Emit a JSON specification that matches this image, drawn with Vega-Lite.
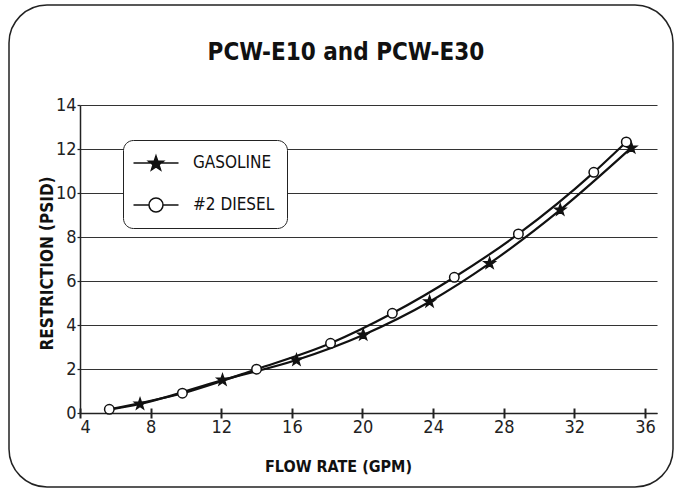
{
  "$schema": "https://vega.github.io/schema/vega-lite/v6.json",
  "width": 664,
  "height": 482,
  "autosize": "none",
  "padding": {"left": 9, "top": 5, "right": 9, "bottom": 6},
  "background": "white",
  "title": {
    "text": "PCW-E10 and PCW-E30",
    "font": "DejaVu Sans Condensed, Roboto Condensed, Liberation Sans, sans-serif",
    "fontSize": 24,
    "fontWeight": "bold",
    "color": "#111",
    "anchor": "middle",
    "frame": "group",
    "baseline": "alphabetic",
    "offset": -56,
    "dy": 23,
    "dx": 5
  },
  "config": {
    "view": {"stroke": "#222", "strokeWidth": 1.5, "cornerRadius": 38, "fill": "white"},
    "font": "DejaVu Sans Condensed, Roboto Condensed, Liberation Sans, sans-serif",
    "legend": {
      "title": null,
      "orient": "none",
      "legendX": 114,
      "legendY": 135,
      "padding": 12,
      "fillColor": "white",
      "strokeColor": "#222",
      "cornerRadius": 10,
      "symbolSize": 400,
      "symbolOpacity": 1,
      "symbolStrokeWidth": 1.5,
      "labelOffset": 36,
      "rowPadding": 20,
      "labelFontSize": 17,
      "labelColor": "#111",
      "labelExpr": "datum.label + '\u00a0\u00a0\u00a0\u00a0\u00a0\u00a0\u00a0'"
    }
  },
  "data": {
    "values": [
      {"series": "GASOLINE", "flow": 5.66, "psid": 0.15},
      {"series": "GASOLINE", "flow": 7.4, "psid": 0.41},
      {"series": "GASOLINE", "flow": 12.07, "psid": 1.5},
      {"series": "GASOLINE", "flow": 16.26, "psid": 2.41},
      {"series": "GASOLINE", "flow": 20.04, "psid": 3.55},
      {"series": "GASOLINE", "flow": 23.8, "psid": 5.06},
      {"series": "GASOLINE", "flow": 27.2, "psid": 6.8},
      {"series": "GASOLINE", "flow": 31.2, "psid": 9.23},
      {"series": "GASOLINE", "flow": 35.22, "psid": 12.05},
      {"series": "#2 DIESEL", "flow": 5.66, "psid": 0.17},
      {"series": "#2 DIESEL", "flow": 9.8, "psid": 0.9},
      {"series": "#2 DIESEL", "flow": 14.0, "psid": 1.99},
      {"series": "#2 DIESEL", "flow": 18.19, "psid": 3.17},
      {"series": "#2 DIESEL", "flow": 21.69, "psid": 4.53},
      {"series": "#2 DIESEL", "flow": 25.2, "psid": 6.17},
      {"series": "#2 DIESEL", "flow": 28.83, "psid": 8.14},
      {"series": "#2 DIESEL", "flow": 33.1, "psid": 10.94},
      {"series": "#2 DIESEL", "flow": 34.94, "psid": 12.32}
    ]
  },
  "encoding": {
    "y": {
      "field": "psid",
      "type": "quantitative",
      "scale": {"domain": [0, 14], "range": [408, 100], "nice": false, "zero": true},
      "axis": {
        "title": "RESTRICTION (PSID)",
        "values": [0, 2, 4, 6, 8, 10, 12, 14],
        "offset": -71,
        "grid": true,
        "gridColor": "#333",
        "gridWidth": 1.2,
        "domainColor": "#222",
        "domainWidth": 1.5,
        "tickColor": "#222",
        "tickWidth": 1.2,
        "tickSize": 3,
        "labelFontSize": 18,
        "labelColor": "#222",
        "labelPadding": 1,
        "titleFontSize": 17,
        "titleFontWeight": "bold",
        "titleColor": "#111",
        "titleX": -28,
        "titleY": 258,
        "titleAlign": "center",
        "titleAngle": -90,
        "titleBaseline": "alphabetic"
      }
    }
  },
  "layer": [
    {
      "mark": {"type": "line", "interpolate": "monotone", "color": "#111", "strokeWidth": 2.2},
      "encoding": {
        "x": {
          "field": "flow",
          "type": "quantitative",
          "scale": {"domain": [4, 36.68], "range": [71, 648], "nice": false, "zero": false},
          "axis": {
            "title": "FLOW RATE (GPM)",
            "values": [4, 8, 12, 16, 20, 24, 28, 32, 36],
            "offset": -74,
            "grid": false,
            "domainColor": "#222",
            "domainWidth": 1.5,
            "tickColor": "#222",
            "tickWidth": 2,
            "tickSize": 5,
            "labelFontSize": 18,
            "labelColor": "#222",
            "labelPadding": 0,
            "titleFontSize": 16,
            "titleFontWeight": "bold",
            "titleColor": "#111",
            "titleX": 329,
            "titleY": 58,
            "titleBaseline": "alphabetic"
          }
        },
        "detail": {"field": "series"}
      }
    },
    {
      "transform": [{"filter": "datum.series === '#2 DIESEL' || datum.flow > 6"}],
      "mark": {"type": "point", "filled": true, "stroke": "#111", "strokeWidth": 1.5, "opacity": 1},
      "encoding": {
        "x": {"field": "flow", "type": "quantitative", "axis": null},
        "shape": {
          "field": "series",
          "type": "nominal",
          "scale": {
            "domain": ["GASOLINE", "#2 DIESEL"],
            "range": ["M0,-1L0.235,-0.324L0.951,-0.309L0.38,0.124L0.588,0.809L0,0.4L-0.588,0.809L-0.38,0.124L-0.951,-0.309L-0.235,-0.324Z", "circle"]
          },
          "legend": null
        },
        "fill": {
          "condition": {"test": "datum.series === 'GASOLINE'", "value": "#111"},
          "value": "white"
        },
        "size": {
          "condition": {"test": "datum.series === 'GASOLINE'", "value": 130},
          "value": 90
        }
      }
    },
    {
      "transform": [{"filter": "datum.flow < 0"}],
      "mark": {"type": "point", "filled": true, "strokeWidth": 1.5},
      "encoding": {
        "x": {
          "field": "flow",
          "type": "quantitative",
          "axis": {
            "orient": "bottom",
            "values": [4, 8, 12, 16, 20, 24, 28, 32, 36],
            "offset": -74,
            "grid": false,
            "domain": false,
            "labels": false,
            "title": null,
            "tickColor": "#222",
            "tickWidth": 2,
            "tickSize": -5
          }
        },
        "shape": {
          "field": "series",
          "type": "nominal",
          "scale": {
            "domain": ["GASOLINE", "#2 DIESEL"],
            "range": ["M-1.25,0H3.25M1,-0.71L1.183,-0.183L1.742,-0.171L1.296,0.167L1.459,0.701L1,0.382L0.541,0.701L0.704,0.167L0.258,-0.171L0.817,-0.183Z", "M-1.25,0H0.3M1.7,0H3.25M0.3,0A0.7,0.7 0 1,1 1.7,0A0.7,0.7 0 1,1 0.3,0Z"]
          }
        },
        "fill": {
          "field": "series",
          "type": "nominal",
          "scale": {"domain": ["GASOLINE", "#2 DIESEL"], "range": ["#111", "white"]}
        },
        "stroke": {
          "field": "series",
          "type": "nominal",
          "scale": {"domain": ["GASOLINE", "#2 DIESEL"], "range": ["#111", "#111"]}
        }
      }
    }
  ],
  "resolve": {
    "scale": {"shape": "independent", "fill": "independent", "stroke": "independent"},
    "axis": {"x": "independent"}
  }
}
